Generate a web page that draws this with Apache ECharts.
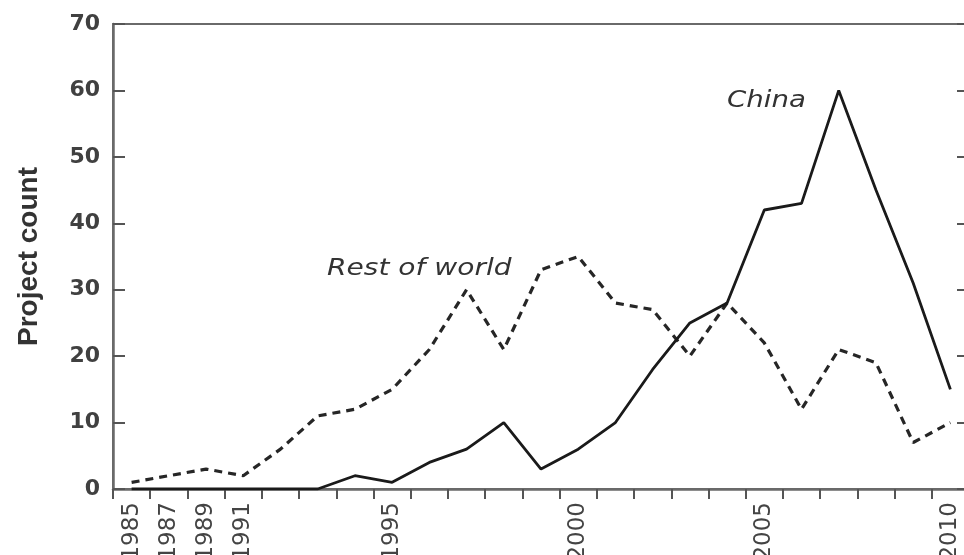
<!DOCTYPE html>
<html>
<head>
<meta charset="utf-8">
<script src="https://cdn.jsdelivr.net/npm/echarts@6/dist/echarts.min.js"></script>
<style>
html,body{margin:0;padding:0;background:#fff;overflow:hidden;}
#chart{width:964px;height:555px;}
</style>
</head>
<body>
<div id="chart"></div>
<script>
var categories = ['1985','1987','1989','1991','1992','1993','1994','1995','1996','1997','1998','1999','2000','2001','2002','2003','2004','2005','2006','2007','2008','2009','2010'];
var chinaValues = [0,0,0,0,0,0,2,1,4,6,10,3,6,10,18,25,28,42,43,60,45,31,15];
var restValues = [1,2,3,2,6,11,12,15,21,30,21,33,35,28,27,20,28,22,12,21,19,7,10];
var shownLabels = ['1985','1987','1989','1991','1995','2000','2005','2010'];
var yTicks = {min:0, max:70, interval:10};

var chart = echarts.init(document.getElementById('chart'));
var axisColor = '#6a6a6a';
chart.setOption({
  animation:false,
  backgroundColor:'#ffffff',
  grid:{left:113, top:24, bottom:66, width:856, containLabel:false, outerBoundsMode:'none',
        show:true, borderColor:axisColor, borderWidth:2, backgroundColor:'transparent'},
  xAxis:{
    type:'category', data:categories, boundaryGap:true,
    axisLine:{lineStyle:{color:axisColor, width:2.5}},
    axisTick:{show:true, interval:0, length:10, inside:false, lineStyle:{color:'#555', width:2}},
    axisLabel:{
      rotate:90, margin:13, color:'#444', fontFamily:'DejaVu Sans', fontSize:23,
      interval:function(i, v){ return shownLabels.indexOf(v) >= 0; }
    },
    splitLine:{show:false}
  },
  yAxis:[{
    type:'value', min:yTicks.min, max:yTicks.max, interval:yTicks.interval,
    name:'Project count', nameLocation:'middle', nameGap:70,
    nameTextStyle:{fontFamily:'Liberation Sans', fontWeight:'bold', fontSize:28, color:'#333'},
    axisLine:{show:true, lineStyle:{color:axisColor, width:2.5}},
    axisTick:{show:true, inside:true, length:12, lineStyle:{color:'#555', width:2}},
    axisLabel:{margin:13, color:'#404040', fontFamily:'DejaVu Sans', fontWeight:'bold', fontSize:22},
    splitLine:{show:false}
  },{
    type:'value', position:'right', min:yTicks.min, max:yTicks.max, interval:yTicks.interval,
    axisLine:{show:true, lineStyle:{color:axisColor, width:2.5}},
    axisTick:{show:true, inside:true, length:12, lineStyle:{color:'#555', width:2}},
    axisLabel:{show:false},
    splitLine:{show:false}
  }],
  series:[{
    name:'China', type:'line', data:chinaValues, symbol:'none',
    lineStyle:{color:'#1a1a1a', width:2.8, type:'solid'}, z:3
  },{
    name:'Rest of world', type:'line', data:restValues, symbol:'none',
    lineStyle:{color:'#262626', width:3.2, type:[8,6]}, z:2
  }],
  graphic:[
    {type:'text', x:327, y:269, scaleX:1.22, style:{text:'Rest of world', fontFamily:'DejaVu Sans', fontStyle:'italic', fontSize:23, fill:'#333', verticalAlign:'middle', align:'left'}},
    {type:'text', x:727, y:101, scaleX:1.2, style:{text:'China', fontFamily:'DejaVu Sans', fontStyle:'italic', fontSize:23, fill:'#333', verticalAlign:'middle', align:'left'}}
  ]
});
</script>
</body>
</html>
